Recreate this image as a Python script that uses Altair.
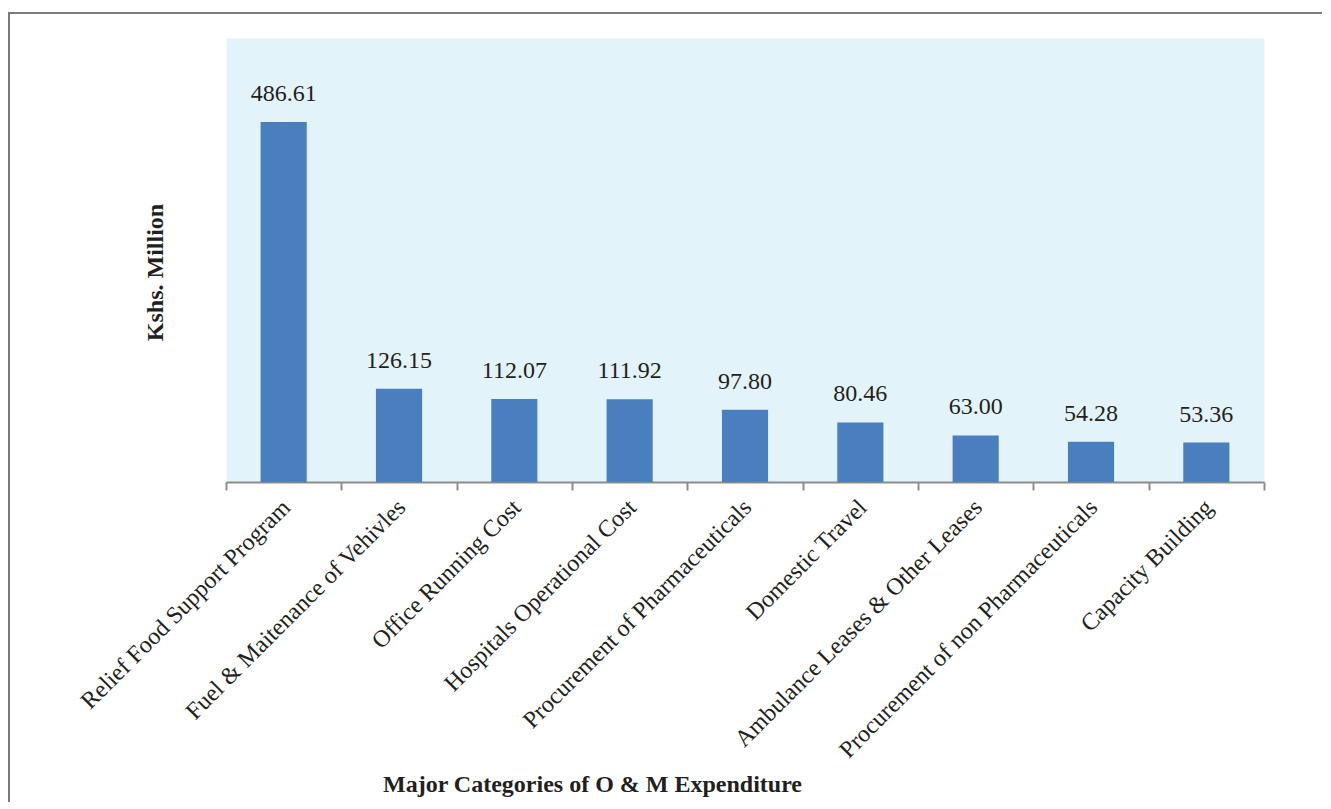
import altair as alt
import pandas as pd

categories = [
    "Relief Food Support Program",
    "Fuel & Maitenance of Vehivles",
    "Office Running Cost",
    "Hospitals Operational Cost",
    "Procurement of Pharmaceuticals",
    "Domestic Travel",
    "Ambulance Leases & Other Leases",
    "Procurement of non Pharmaceuticals",
    "Capacity Building",
]
values = [486.61, 126.15, 112.07, 111.92, 97.80, 80.46, 63.00, 54.28, 53.36]
labels = [f"{v:.2f}" for v in values]

df = pd.DataFrame({"cat": categories, "val": values, "lab": labels})

FONT = "Liberation Serif"
TXT = "#231f20"

x = alt.X(
    "cat:N",
    sort=categories,
    scale=alt.Scale(paddingInner=0, paddingOuter=0),
    axis=alt.Axis(
        title="Major Categories of O & M Expenditure",
        titleFont=FONT, titleFontSize=24, titleFontWeight="bold", titleColor=TXT,
        titleAnchor="start", titleX=366, titleY=302, titleAlign="center", titleBaseline="middle",
        labelAngle=-45, labelAlign="right", labelBaseline="top",
        labelFont=FONT, labelFontSize=24, labelColor=TXT, labelLimit=0,
        labelPadding=5, labelOffset=-6,
        tickBand="extent", tickSize=8, tickColor="#8c8c8c", tickWidth=2,
        domainColor="#8c8c8c", domainWidth=2,
    ),
)
y = alt.Y(
    "val:Q",
    scale=alt.Scale(domain=[0, 600], nice=False),
    axis=alt.Axis(
        title="Kshs. Million",
        titleFont=FONT, titleFontSize=24, titleFontWeight="bold", titleColor=TXT,
        titleX=-71, titleY=234, titleAlign="center", titleBaseline="middle", titleAngle=270,
        labels=False, ticks=False, domain=False, grid=False,
    ),
)

bars = alt.Chart(df).mark_bar(color="#4a7fbf", width=alt.RelativeBandSize(0.4)).encode(x=x, y=y)
text = alt.Chart(df).mark_text(
    font=FONT, fontSize=24, color=TXT, baseline="middle", dy=-28
).encode(x=alt.X("cat:N", sort=categories), y="val:Q", text="lab:N")

frame_top = alt.Chart(df).mark_rule(color="#7a7a7a", strokeWidth=2).encode(
    x=alt.value(-218), x2=alt.value(1200), y=alt.value(-25)
)
frame_left = alt.Chart(df).mark_rule(color="#7a7a7a", strokeWidth=2).encode(
    x=alt.value(-217), y=alt.value(-26), y2=alt.value(800)
)

chart = (
    alt.layer(bars, text, frame_top, frame_left)
    .properties(
        width=1038,
        height=444,
        autosize=alt.AutoSizeParams(type="none"),
        padding={"left": 218, "top": 30, "right": 58, "bottom": 320},
        background="white",
    )
    .configure_view(fill="#e3f3fa", stroke="transparent")
)

chart.save("out.html", embed_options={"renderer": "svg", "actions": False})
